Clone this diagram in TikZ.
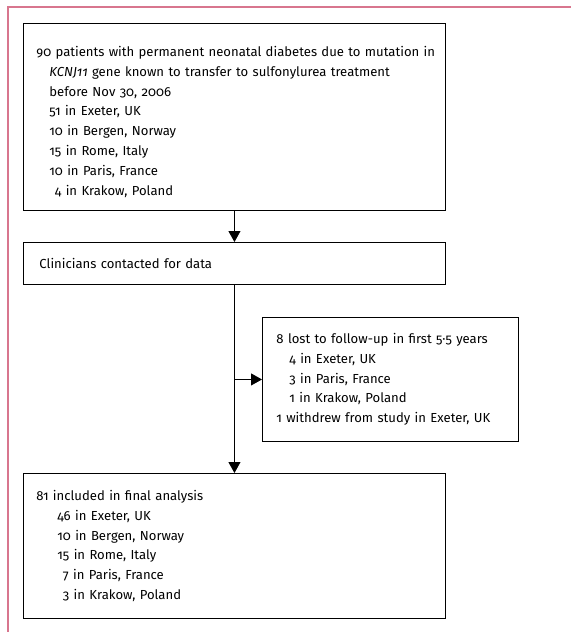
\documentclass[tikz,border=0pt]{standalone}
\usepackage{fontspec}
\setmainfont{Fira Sans}[Numbers=OldStyle]
\usetikzlibrary{arrows.meta}
\definecolor{lancetpink}{RGB}{216,118,142}
\begin{document}
\begin{tikzpicture}[
    x=1pt, y=-1pt,
    box/.style={rectangle, draw=black, line width=0.9pt, anchor=north west, align=left, inner ysep=0pt, font=\fontsize{13.1}{19.8}\selectfont},
    arr/.style={-{Triangle[length=11pt, width=12pt]}, line width=0.9pt}
]
\useasboundingbox (0,0) rectangle (571,632);
\draw[lancetpink, line width=1.2pt] (8,632) -- (8,7) -- (571,7);

\node[box, minimum width=422pt, minimum height=187pt, inner xsep=13pt, text width=396pt] (cohort) at (23,23)
  {\rule{0pt}{20pt}\mbox{90 patients with permanent neonatal diabetes due to mutation in}\\
   \hspace*{13pt}\textit{KCNJ11} gene known to transfer to sulfonylurea treatment\\
   \hspace*{13pt}before Nov 30, 2006\\
   \hspace*{13pt}51 in Exeter, UK\\
   \hspace*{13pt}10 in Bergen, Norway\\
   \hspace*{13pt}15 in Rome, Italy\\
   \hspace*{13pt}10 in Paris, France\\
   \hspace*{13pt}\phantom{1}4 in Krakow, Poland};
\node[box, minimum width=422pt, minimum height=42pt, inner xsep=16pt, text width=390pt] (contact) at (23,242)
  {Clinicians contacted for data};
\node[box, minimum width=256pt, minimum height=124pt, inner xsep=14pt, text width=228pt] (lost) at (262,317)
  {8 lost to follow-up in first 5·5 years\\
   \hspace*{13pt}4 in Exeter, UK\\
   \hspace*{13pt}3 in Paris, France\\
   \hspace*{13pt}1 in Krakow, Poland\\
   1 withdrew from study in Exeter, UK};
\node[box, minimum width=422pt, minimum height=145pt, inner xsep=13pt, text width=396pt] (final) at (23,473)
  {81 included in final analysis\\
   \hspace*{21pt}46 in Exeter, UK\\
   \hspace*{21pt}10 in Bergen, Norway\\
   \hspace*{21pt}15 in Rome, Italy\\
   \hspace*{21pt}\phantom{1}7 in Paris, France\\
   \hspace*{21pt}\phantom{1}3 in Krakow, Poland};

\coordinate (split) at (contact.south |- lost.west);
\draw[arr] (cohort) -- (contact);
\draw[arr] (contact) -- (final);
\draw[arr] (split) -- (lost);
\end{tikzpicture}
\end{document}
